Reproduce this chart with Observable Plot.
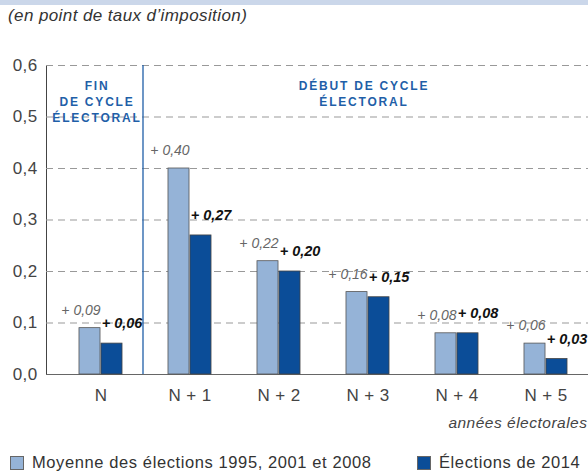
<!DOCTYPE html>
<html>
<head>
<meta charset="utf-8">
<script src="https://cdn.jsdelivr.net/npm/d3@7"></script>
<script src="https://cdn.jsdelivr.net/npm/@observablehq/plot@0.6"></script>
<style>
  body { margin: 0; width: 588px; font-family: "Liberation Sans", Arial, sans-serif; background: #fff; }
  .band { height: 5px; background: #cbd7ea; }
  .subtitle { height: 25px; line-height: 21px; padding-left: 8px; font-style: italic; font-size: 17px; letter-spacing: 0.4px; color: #333; }
  .legend { position: relative; height: 31px; font-size: 16.5px; letter-spacing: 0.6px; color: #333; }
  .legend .item { position: absolute; top: 13px; display: flex; align-items: center; }
  .legend .sw { width: 14px; height: 14px; border: 1px solid #666; margin-right: 8px; box-sizing: border-box; }
  svg g[fill="#1f5fa8"] text { letter-spacing: 1.8px; }
  svg g[aria-label="x-axis tick label"] text, svg g[aria-label="y-axis tick label"] text { letter-spacing: 0.4px; }
</style>
</head>
<body>
<div class="band"></div>
<div class="subtitle">(en point de taux d’imposition)</div>
<div id="chart"></div>
<div class="legend">
  <div class="item" style="left:10px"><span class="sw" style="background:#95b3d7"></span><span id="l1"></span></div>
  <div class="item" style="left:417px"><span class="sw" style="background:#0b4d98"></span><span id="l2"></span></div>
</div>
<script>
const categories = ["N", "N + 1", "N + 2", "N + 3", "N + 4", "N + 5"];
const moyenne = [0.09, 0.40, 0.22, 0.16, 0.08, 0.06];
const elections2014 = [0.06, 0.27, 0.20, 0.15, 0.08, 0.03];
const yTicks = [0, 0.1, 0.2, 0.3, 0.4, 0.5, 0.6];
const seriesNames = ["Moyenne des élections 1995, 2001 et 2008", "Élections de 2014"];
const regionLabels = ["FIN\nDE CYCLE\nÉLECTORAL", "DÉBUT DE CYCLE\nÉLECTORAL"];
const xTitle = "années électorales";

document.getElementById("l1").textContent = seriesNames[0];
document.getElementById("l2").textContent = seriesNames[1];

const data = categories.map((c, i) => ({cat: c, avg: moyenne[i], y2014: elections2014[i]}));
const comma = v => v.toFixed(1).replace(".", ",");
const fmt = v => "+ " + v.toFixed(2).replace(".", ",");

const x0 = 53, x1 = 592.8;
const bw = (x1 - x0) / categories.length;
const barW = 22;

const chart = Plot.plot({
  width: 588,
  height: 410,
  marginTop: 35,
  marginBottom: 66,
  marginLeft: 46,
  marginRight: 0,
  style: {fontFamily: "Liberation Sans, Arial, sans-serif", fontSize: "17px", color: "#444", background: "#fff"},
  x: {type: "band", domain: categories, range: [x0, x1], padding: 0, tickSize: 0, tickPadding: 14, label: null},
  y: {domain: [0, 0.6], ticks: yTicks, tickFormat: comma, tickSize: 0, tickPadding: 9, label: null, line: true},
  marks: [
    Plot.ruleY(yTicks.filter(d => d > 0), {stroke: "#999", strokeDasharray: "7,5", strokeWidth: 1}),
    Plot.ruleY([0], {stroke: "#666", strokeWidth: 1}),
    Plot.ruleX([categories[1]], {y1: 0, y2: 0.6, dx: -47, stroke: "#1f5fa8", strokeWidth: 1.3}),
    Plot.barY(data, {x: "cat", y: "avg", fill: "#95b3d7", stroke: "#555", strokeWidth: 0.8,
      insetLeft: bw / 2 - barW, insetRight: bw / 2}),
    Plot.barY(data, {x: "cat", y: "y2014", fill: "#0b4d98", stroke: "#444", strokeWidth: 0.8,
      insetLeft: bw / 2, insetRight: bw / 2 - barW}),
    Plot.text(data, {x: "cat", y: "avg", text: d => fmt(d.avg), dx: -20, dy: -18,
      fontSize: 14, fontStyle: "italic", fill: "#666"}),
    Plot.text(data, {x: "cat", y: "y2014", text: d => fmt(d.y2014), dx: 21, dy: -20,
      fontSize: 14.5, fontStyle: "italic", fontWeight: "bold", fill: "#111"}),
    Plot.text([regionLabels[0]], {x: () => categories[0], frameAnchor: "top", dx: -4, dy: 13,
      lineAnchor: "top", lineHeight: 1.35, fontSize: 12, fontWeight: "bold", fill: "#1f5fa8", text: d => d}),
    Plot.text([regionLabels[1]], {x: () => categories[3], frameAnchor: "top", dx: -4, dy: 13,
      lineAnchor: "top", lineHeight: 1.35, fontSize: 12, fontWeight: "bold", fill: "#1f5fa8", text: d => d}),
    Plot.text([xTitle], {frameAnchor: "bottom-right", dx: -1, dy: 49, lineAnchor: "middle",
      fontSize: 15.5, fontStyle: "italic", fill: "#444", text: d => d, style: "letter-spacing:0.5px"})
  ]
});
document.getElementById("chart").appendChild(chart);
d3.select(chart).selectAll("text").filter(function() { return this.textContent === xTitle; })
  .style("letter-spacing", "0.5px");
</script>
</body>
</html>
